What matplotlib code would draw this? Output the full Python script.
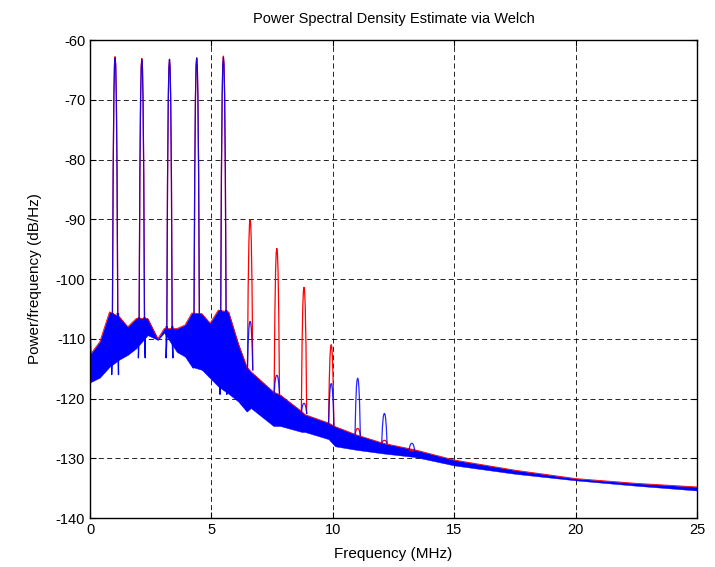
import numpy as np
import matplotlib.pyplot as plt

# spectrum envelope (MHz, dB/Hz)
band_freq = [0.0, 0.05, 0.4, 0.8, 1.2, 1.55, 1.9, 2.37, 2.79, 3.05, 3.57, 3.91,
             4.19, 4.6, 4.94, 5.28, 5.7, 6.1, 6.45, 6.62, 7.55, 7.83, 8.72, 8.85,
             9.82, 10.09, 10.98, 12.08, 13.39, 15.0, 17.5, 20.0, 22.5, 25.0]
band_upper = [-112.0, -112.4, -110.5, -105.5, -106.3, -108.0, -106.6, -106.6, -110.0,
              -108.3, -108.3, -107.7, -105.7, -105.8, -107.4, -105.2, -105.5, -110.8,
              -114.7, -115.5, -118.9, -119.4, -122.2, -122.7, -124.1, -124.7, -126.1,
              -127.5, -128.6, -130.3, -132.0, -133.4, -134.2, -134.8]
band_lower = [-117.4, -117.2, -116.5, -114.7, -113.5, -112.7, -111.6, -109.4, -110.2,
              -109.0, -112.2, -113.0, -114.7, -115.2, -116.6, -118.0, -119.2, -120.5,
              -122.2, -121.6, -124.6, -124.6, -125.6, -125.6, -126.8, -128.0, -128.6,
              -129.2, -129.8, -131.2, -132.6, -133.7, -134.6, -135.4]
red_start_db = -107.0

# harmonics
peak_freq = [1.03, 2.13, 3.27, 4.39, 5.49, 6.59, 7.69, 8.81, 9.93, 11.02, 12.12, 13.25]
peak_base_db = [-105.8, -106.5, -108.0, -106.0, -105.3, -115.2, -119.2, -122.5,
                -124.5, -126.2, -127.5, -128.5]
red_peak_db = [-62.8, -63.1, -63.3, -63.0, -62.7, -90.1, -94.9, -101.4, -111.0,
               -125.0, -127.0, -128.8]
blue_peak_db = [-63.0, -63.3, -63.2, -63.0, -62.9, -107.1, -116.1, -120.8, -117.5,
                -116.6, -122.5, -127.5]
blue_dip_db = [-116.0, -113.2, -113.2, -114.9, -119.3]

# peak outline (style only)
pk_off = np.array([-0.11, -0.08, -0.05, -0.025, 0, 0.025, 0.05, 0.08, 0.11])
pk_frac = np.array([0, 0.55, 0.85, 0.97, 1, 0.97, 0.85, 0.55, 0])

plt.rcParams['font.family'] = ['Liberation Sans', 'DejaVu Sans']
plt.rcParams['font.size'] = 10
plt.rcParams['axes.unicode_minus'] = False

fig = plt.figure(figsize=(7.15, 5.67), dpi=100)
ax = fig.add_axes([0.126, 0.0864, 0.849, 0.843])

red_y = list(band_upper)
red_y[0] = red_start_db
ax.plot(band_freq, red_y, color='red', lw=0.6)
for f, b, t in zip(peak_freq, peak_base_db, red_peak_db):
    ax.plot(f + pk_off, b + pk_frac * (t - b), color='red', lw=0.9)

ax.fill_between(band_freq, band_lower, band_upper, color='blue', lw=0.3,
                edgecolor='blue')
for i, (f, b, t) in enumerate(zip(peak_freq, peak_base_db, blue_peak_db)):
    ax.plot(f + pk_off, b + pk_frac * (t - b), color='blue', lw=0.9, alpha=0.85)
    if i < len(blue_dip_db):
        d = blue_dip_db[i]
        ax.plot([f - 0.14, f - 0.14, f - 0.09], [b, d, b], color='blue', lw=0.9)
        ax.plot([f + 0.14, f + 0.14, f + 0.09], [b, d, b], color='blue', lw=0.9)

ax.set_xlim(0, 25)
ax.set_ylim(-140, -60)
ax.set_xticks(np.arange(0, 26, 5))
ax.set_yticks(np.arange(-140, -59, 10))
ax.tick_params(direction='in', top=True, right=True, length=4, labelsize=10.5)
ax.grid(True, color='k', linestyle=(0, (6, 4)), lw=0.6)
ax.set_axisbelow(True)
for s in ax.spines.values():
    s.set_linewidth(1.0)

ax.set_title('Power Spectral Density Estimate via Welch', fontsize=10.5, pad=12)
ax.set_xlabel('Frequency (MHz)', fontsize=11, labelpad=7)
ax.set_ylabel('Power/frequency (dB/Hz)', fontsize=11, labelpad=10)

fig.savefig('out.png', dpi=100)
